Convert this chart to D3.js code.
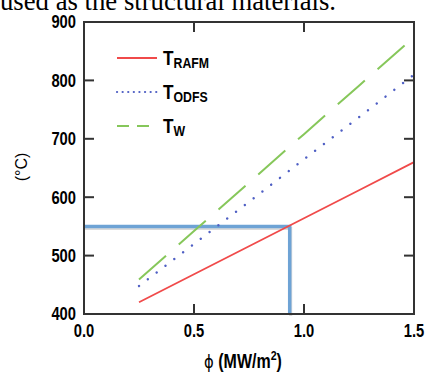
<!DOCTYPE html>
<html>
<head>
<meta charset="utf-8">
<script src="https://cdn.jsdelivr.net/npm/d3@7"></script>
<style>
  body { margin: 0; background: #fff; }
  .tick-label { font-family: "Liberation Sans", Arial, sans-serif; font-weight: bold; font-size: 18px; }
</style>
</head>
<body>
<script>
// heat flux (MW/m2) sample points
var phi = [0.25, 0.5, 0.75, 1.0, 1.25, 1.5];
// temperatures (deg C)
var tRafm = [420, 468, 516, 564, 612, 660];
var tOdfs = [448, 520, 592, 665, 737, 810];
var tW = [459, 542, 625, 708, 791, 874];

var xTicks = [0.0, 0.5, 1.0, 1.5];
var yTicks = [400, 500, 600, 700, 800, 900];

// design point marked with the blue guide lines
var designPhi = 0.935;
var designT = 550;

var width = 425;
var height = 372;
var margin = { top: 22, right: 11, bottom: 58, left: 84 };
var graphWidth = width - margin.left - margin.right;
var graphHeight = height - margin.top - margin.bottom;
var squeeze = 0.82; // the figure uses a condensed bold face

var svg = d3.select("body")
            .append("svg")
            .attr("width", width)
            .attr("height", height);

// clipped caption text from the page above the figure
svg.append("text")
   .attr("x", 0)
   .attr("y", 10)
   .attr("textLength", 336)
   .attr("lengthAdjust", "spacingAndGlyphs")
   .style("font-family", "'Liberation Serif', 'Times New Roman', serif")
   .style("font-size", "28px")
   .text("used as the structural materials.");

var g = svg.append("g").attr("transform", `translate(${margin.left}, ${margin.top})`);

var x = d3.scaleLinear().domain([0, 1.5]).range([0, graphWidth]);
var y = d3.scaleLinear().domain([400, 900]).range([graphHeight, 0]);

// guide lines (drawn under the data)
var guide = d3.line().x(function(d) { return x(d[0]); }).y(function(d) { return y(d[1]); });
var guidePts = [[0, designT], [designPhi, designT], [designPhi, 400]];
g.append("path")
 .attr("d", guide(guidePts))
 .attr("transform", "translate(1, 2)")
 .attr("fill", "none")
 .attr("stroke", "#999")
 .attr("stroke-opacity", 0.35)
 .attr("stroke-width", 3);
g.append("path")
 .attr("d", guide(guidePts))
 .attr("fill", "none")
 .attr("stroke", "#6ea3d5")
 .attr("stroke-width", 3.5);

// series lines
var line = d3.line()
             .x(function(d, i) { return x(phi[i]); })
             .y(function(d) { return y(d); });

var series = [
  { values: tRafm, color: "#f04a4a", dash: null, width: 1.8, cap: "butt" },
  { values: tOdfs, color: "#4f5fc4", dash: "0.1,11", width: 2.4, cap: "round" },
  { values: tW, color: "#86c75a", dash: "36,17", width: 2, cap: "butt" }
];

series.forEach(function(s) {
  g.append("path")
   .attr("d", line(s.values))
   .attr("fill", "none")
   .attr("stroke", s.color)
   .attr("stroke-width", s.width)
   .attr("stroke-linecap", s.cap)
   .attr("stroke-dasharray", s.dash);
});

// frame
g.append("rect")
 .attr("width", graphWidth)
 .attr("height", graphHeight)
 .attr("fill", "none")
 .attr("stroke", "#333")
 .attr("stroke-width", 2);

// inward ticks on all four sides
var tickLen = 10;
var innerX = xTicks.slice(1, -1);
var innerY = yTicks.slice(1, -1);
g.selectAll(".xt-bot").data(innerX).enter().append("line")
 .attr("x1", function(d) { return x(d); }).attr("x2", function(d) { return x(d); })
 .attr("y1", graphHeight).attr("y2", graphHeight - tickLen)
 .attr("stroke", "#333").attr("stroke-width", 2);
g.selectAll(".xt-top").data(innerX).enter().append("line")
 .attr("x1", function(d) { return x(d); }).attr("x2", function(d) { return x(d); })
 .attr("y1", 0).attr("y2", tickLen)
 .attr("stroke", "#333").attr("stroke-width", 2);
g.selectAll(".yt-left").data(innerY).enter().append("line")
 .attr("x1", 0).attr("x2", tickLen)
 .attr("y1", function(d) { return y(d); }).attr("y2", function(d) { return y(d); })
 .attr("stroke", "#333").attr("stroke-width", 2);
g.selectAll(".yt-right").data(innerY).enter().append("line")
 .attr("x1", graphWidth).attr("x2", graphWidth - tickLen)
 .attr("y1", function(d) { return y(d); }).attr("y2", function(d) { return y(d); })
 .attr("stroke", "#333").attr("stroke-width", 2);

// tick labels
g.selectAll(".ylab").data(yTicks).enter().append("text")
 .attr("class", "tick-label")
 .attr("transform", function(d) { return `translate(-8, ${y(d)}) scale(${squeeze}, 1)`; })
 .attr("dy", "0.36em")
 .attr("text-anchor", "end")
 .text(function(d) { return d; });

g.selectAll(".xlab").data(xTicks).enter().append("text")
 .attr("class", "tick-label")
 .attr("transform", function(d) { return `translate(${x(d)}, ${graphHeight + 23}) scale(${squeeze}, 1)`; })
 .attr("text-anchor", "middle")
 .text(function(d) { return d3.format(".1f")(d); });

// axis titles
var xTitle = g.append("text")
 .attr("class", "tick-label")
 .style("font-size", "19.5px")
 .attr("transform", `translate(${243 - margin.left}, ${368 - margin.top}) scale(${squeeze}, 1)`)
 .attr("text-anchor", "middle");
xTitle.append("tspan").style("font-weight", "normal").style("font-family", "'DejaVu Sans', sans-serif").style("font-size", "18px").text("\u03d5");
xTitle.append("tspan").text(" (MW/m");
xTitle.append("tspan").attr("dy", -8).style("font-size", "13px").text("2");
xTitle.append("tspan").attr("dy", 8).text(")");

svg.append("text")
   .attr("transform", "translate(27, 167) rotate(-90)")
   .attr("text-anchor", "middle")
   .style("font-family", "'Liberation Sans', Arial, sans-serif")
   .style("font-size", "16px")
   .text("(\u00b0C)");

// legend
var legendItems = [
  { sub: "RAFM", color: "#f04a4a", dash: null, cap: "butt", w: 1.8 },
  { sub: "ODFS", color: "#4f5fc4", dash: "0.1,5.5", cap: "round", w: 2.2 },
  { sub: "W", color: "#86c75a", dash: "12,8", cap: "butt", w: 2 }
];
var legend = svg.append("g");
legendItems.forEach(function(d, i) {
  var ly = 58 + i * 34;
  legend.append("line")
        .attr("x1", 117).attr("x2", 157)
        .attr("y1", ly).attr("y2", ly)
        .attr("stroke", d.color)
        .attr("stroke-width", d.w)
        .attr("stroke-linecap", d.cap)
        .attr("stroke-dasharray", d.dash);
  var t = legend.append("text")
                .attr("class", "tick-label")
                .attr("transform", `translate(163, ${ly + 7}) scale(${squeeze}, 1)`);
  t.append("tspan").style("font-size", "21px").text("T");
  t.append("tspan").attr("dy", 3).style("font-size", "15px").text(d.sub);
});
</script>
</body>
</html>
